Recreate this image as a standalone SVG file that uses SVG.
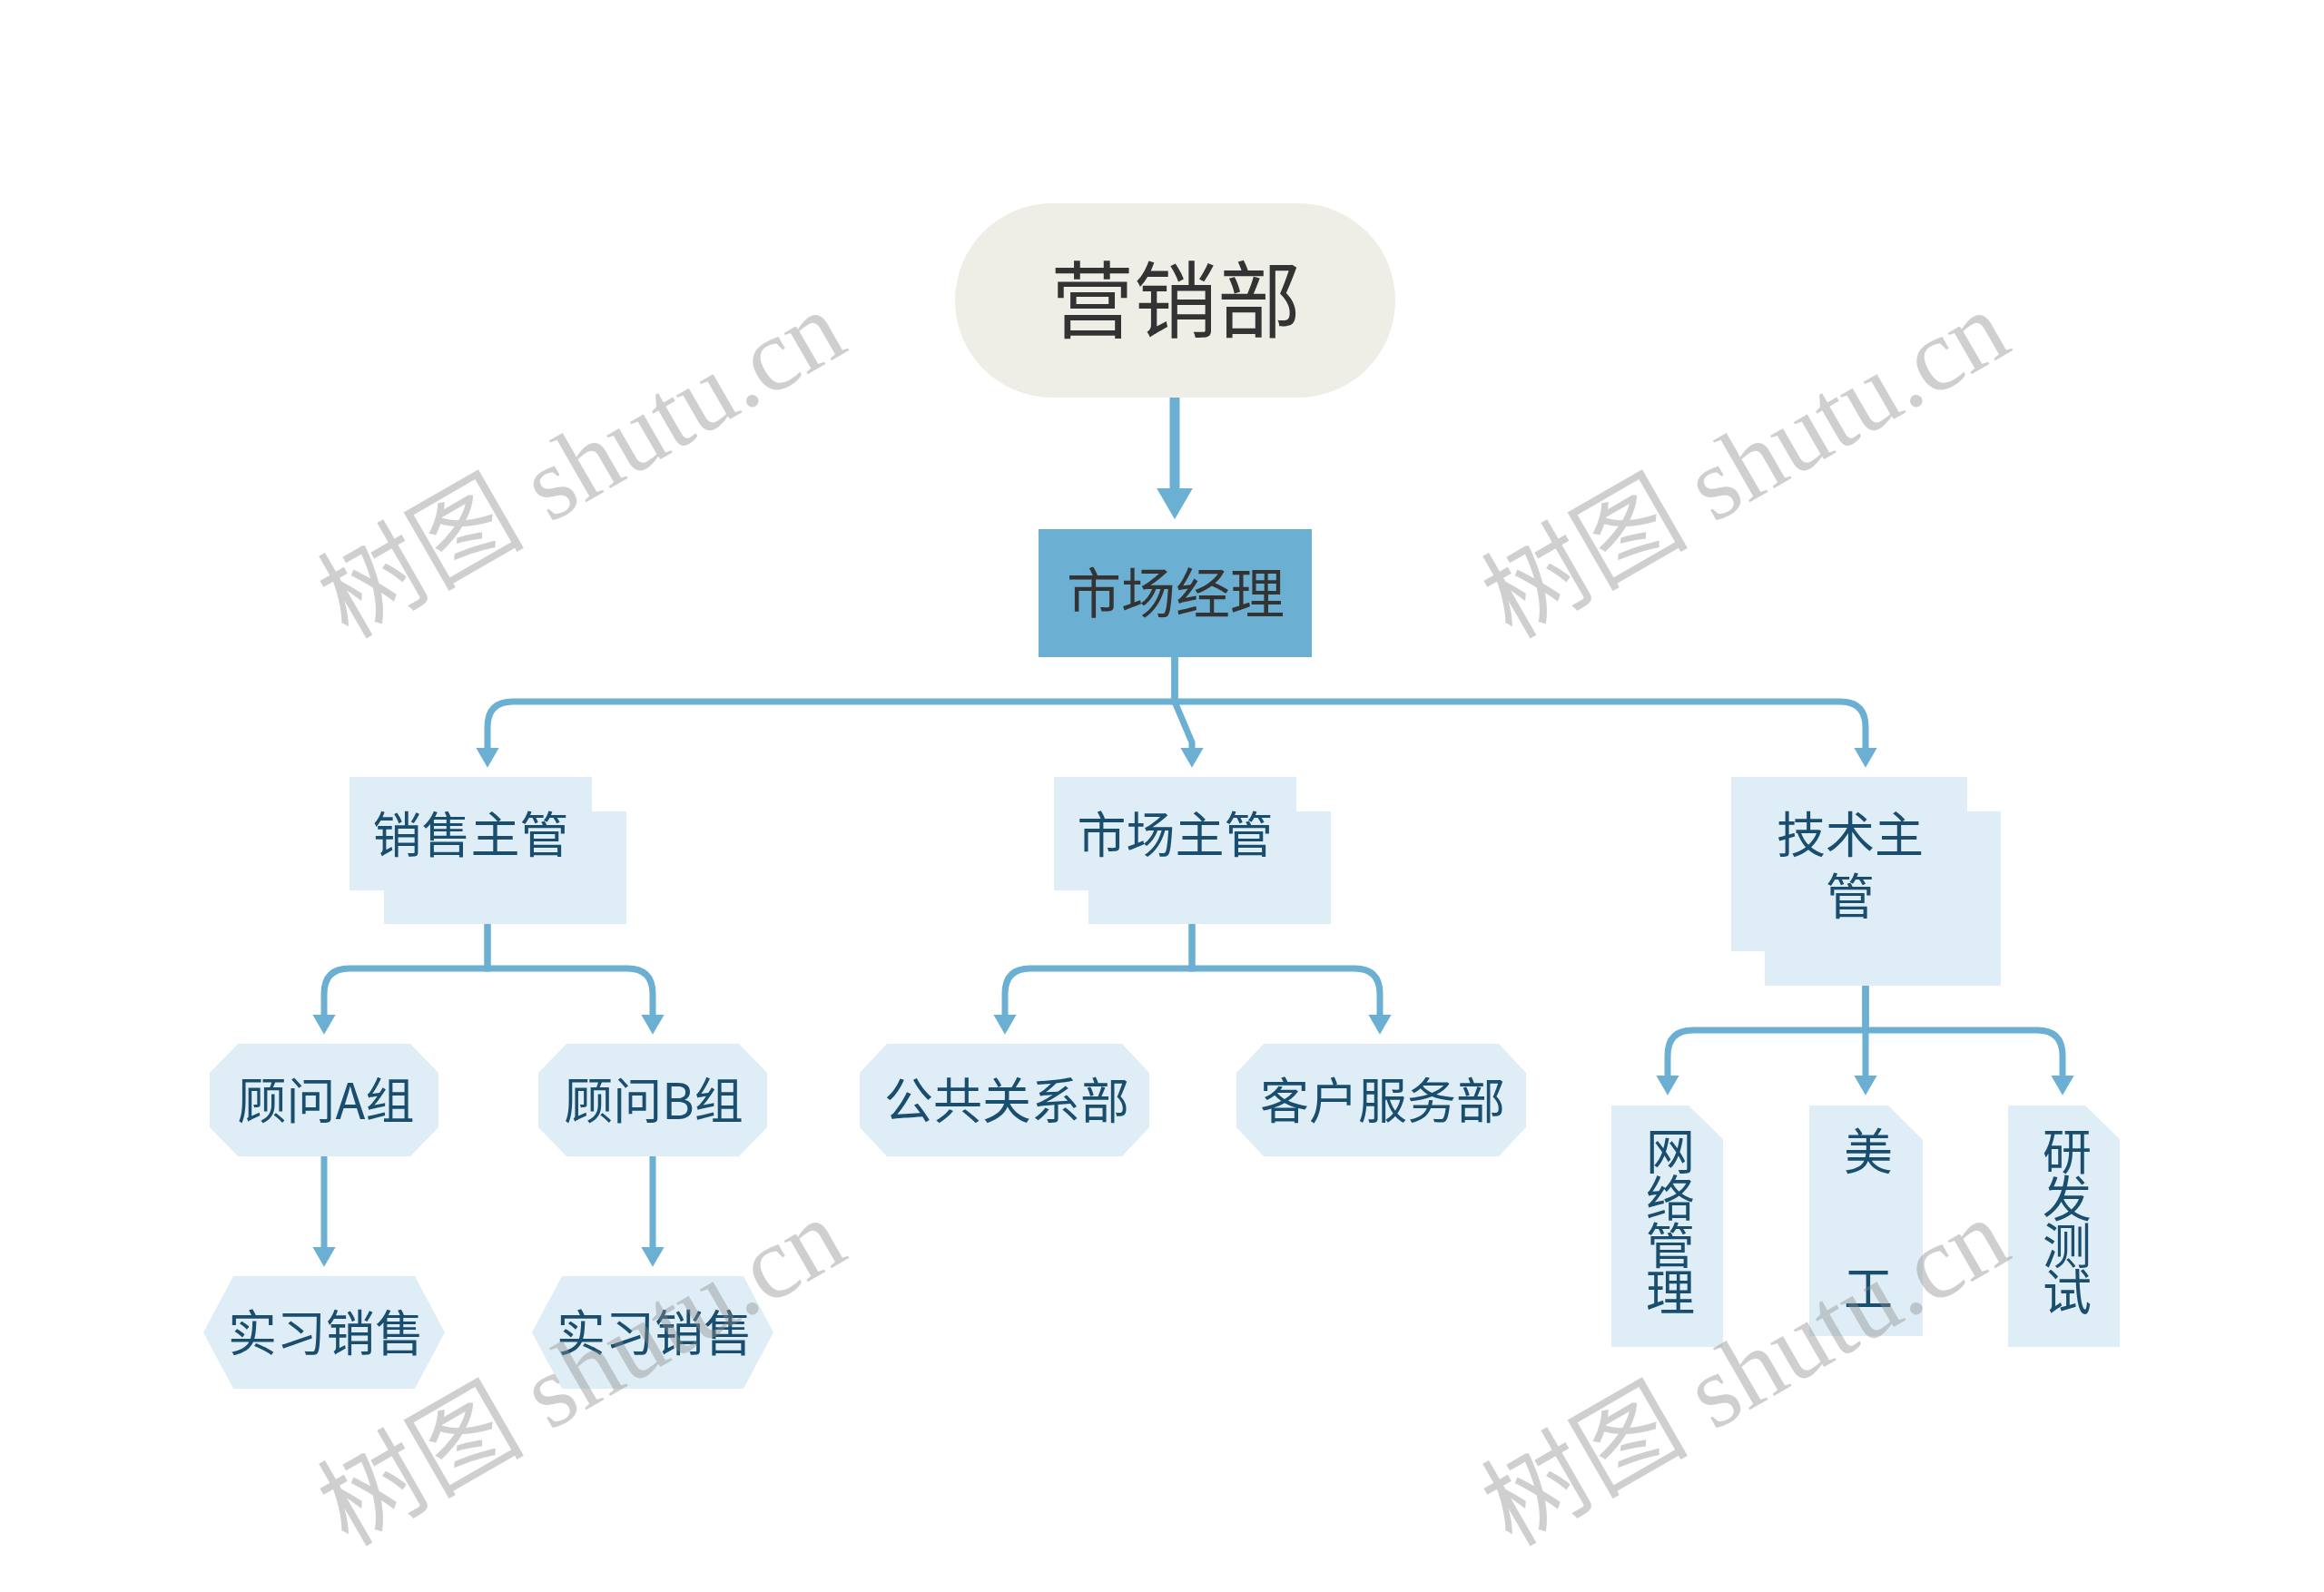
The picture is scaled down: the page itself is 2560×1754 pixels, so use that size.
<svg xmlns="http://www.w3.org/2000/svg" width="2560" height="1754" viewBox="0 0 2560 1754">
<defs>
<marker id="ah" viewBox="0 0 31 36" refX="0" refY="18" markerWidth="3.1" markerHeight="3.6" orient="auto" markerUnits="strokeWidth"><path d="M0,0 L31,18 L0,36 z" fill="#6BAFD3"/></marker>
<style>
.ln{fill:none;stroke:#6BAFD3;stroke-width:7;marker-end:url(#ah)}
.ln0{fill:none;stroke:#6BAFD3;stroke-width:11;marker-end:url(#ah)}
.t{font-family:"Noto Sans CJK SC","Noto Sans",sans-serif;text-anchor:middle}
.lt{fill:#DFEEF6}
.bt{font-size:54px;fill:#1A4E6E}
.wm{font-family:"Liberation Serif","Noto Sans CJK SC",serif;font-size:114px;fill:#8A8A8A;opacity:0.4;text-anchor:middle}
</style>
</defs>
<rect width="2560" height="1754" fill="#FFFFFF"/>
<g id="connectors">
<path class="ln0" d="M1294,438 V538"/>
<path class="ln" d="M1294,724 V773 H565 Q537,773 537,801 V824"/>
<path class="ln" d="M1294,724 V773 L1313,818 V824"/>
<path class="ln" d="M1294,724 V773 H2027 Q2055,773 2055,801 V824"/>
<path class="ln" d="M537,1018 V1067 H385 Q357,1067 357,1095 V1118"/>
<path class="ln" d="M537,1018 V1067 H691 Q719,1067 719,1095 V1118"/>
<path class="ln" d="M1313,1018 V1067 H1135 Q1107,1067 1107,1095 V1118"/>
<path class="ln" d="M1313,1018 V1067 H1492 Q1520,1067 1520,1095 V1118"/>
<path class="ln" d="M2055,1086 V1135 H1865 Q1837,1135 1837,1163 V1185"/>
<path class="ln" d="M2055,1086 V1185"/>
<path class="ln" d="M2055,1086 V1135 H2244 Q2272,1135 2272,1163 V1185"/>
<path class="ln" d="M357,1274 V1374"/>
<path class="ln" d="M719,1274 V1374"/>
</g>
<g id="root">
<rect x="1052" y="224" width="485" height="214" rx="107" fill="#EEEEE6"/>
<text class="t" x="1295" y="365" font-size="92" fill="#333333">营销部</text>
</g>
<g id="manager">
<rect x="1144" y="583" width="301" height="141" fill="#6BAFD3"/>
<text class="t" x="1295" y="676" font-size="60" fill="#333333">市场经理</text>
</g>
<g id="sales-sup">
<rect class="lt" x="423" y="894" width="267" height="124"/>
<rect class="lt" x="385" y="856" width="267" height="125"/>
<text class="t bt" x="518.5" y="939.5">销售主管</text>
</g>
<g id="market-sup">
<rect class="lt" x="1199" y="894" width="267" height="124"/>
<rect class="lt" x="1161" y="856" width="267" height="125"/>
<text class="t bt" x="1294.5" y="939.5">市场主管</text>
</g>
<g id="tech-sup">
<rect class="lt" x="1944" y="894" width="260" height="192"/>
<rect class="lt" x="1907" y="856" width="260" height="192"/>
<text class="t bt" x="2038" y="939.5">技术主<tspan x="2038" y="1008">管</tspan></text>
</g>
<g id="advisor-a">
<polygon class="lt" points="262,1150 452,1150 483,1182 483,1242 452,1274 262,1274 231,1242 231,1182"/>
<text class="t bt" x="359" y="1232.5">顾问A组</text>
</g>
<g id="advisor-b">
<polygon class="lt" points="624,1150 814,1150 845,1182 845,1242 814,1274 624,1274 593,1242 593,1182"/>
<text class="t bt" x="720" y="1232.5">顾问B组</text>
</g>
<g id="pr">
<polygon class="lt" points="977,1150 1236,1150 1266,1182 1266,1242 1236,1274 977,1274 947,1242 947,1182"/>
<text class="t bt" x="1109" y="1232.5">公共关系部</text>
</g>
<g id="cs">
<polygon class="lt" points="1392,1150 1651,1150 1681,1182 1681,1242 1651,1274 1392,1274 1362,1242 1362,1182"/>
<text class="t bt" x="1523" y="1232.5">客户服务部</text>
</g>
<g id="intern-a">
<polygon class="lt" points="257,1406 457,1406 490,1468 457,1530 257,1530 224,1468"/>
<text class="t bt" x="359" y="1488.5">实习销售</text>
</g>
<g id="intern-b">
<polygon class="lt" points="619,1406 819,1406 852,1468 819,1530 619,1530 586,1468"/>
<text class="t bt" x="721" y="1488.5">实习销售</text>
</g>
<g id="network">
<polygon class="lt" points="1775,1218 1860,1218 1898,1255 1898,1484 1775,1484"/>
<text class="t bt" x="1840" y="1289">网<tspan x="1840" y="1341">络</tspan><tspan x="1840" y="1392.5">管</tspan><tspan x="1840" y="1444">理</tspan></text>
</g>
<g id="artist">
<polygon class="lt" points="1993,1218 2080,1218 2118,1256 2118,1472 1993,1472"/>
<text class="t bt" x="2058" y="1289">美<tspan x="2058" y="1440">工</tspan></text>
</g>
<g id="rnd">
<polygon class="lt" points="2212,1218 2297,1218 2335,1255 2335,1484 2212,1484"/>
<text class="t bt" x="2277" y="1289">研<tspan x="2277" y="1341">发</tspan><tspan x="2277" y="1392.5">测</tspan><tspan x="2277" y="1444">试</tspan></text>
</g>
<g id="watermarks">
<text class="wm" transform="translate(660,545) rotate(-30)">树图 shutu.cn</text>
<text class="wm" transform="translate(1942,545) rotate(-30)">树图 shutu.cn</text>
<text class="wm" transform="translate(660,1545) rotate(-30)">树图 shutu.cn</text>
<text class="wm" transform="translate(1942,1545) rotate(-30)">树图 shutu.cn</text>
</g>
</svg>
